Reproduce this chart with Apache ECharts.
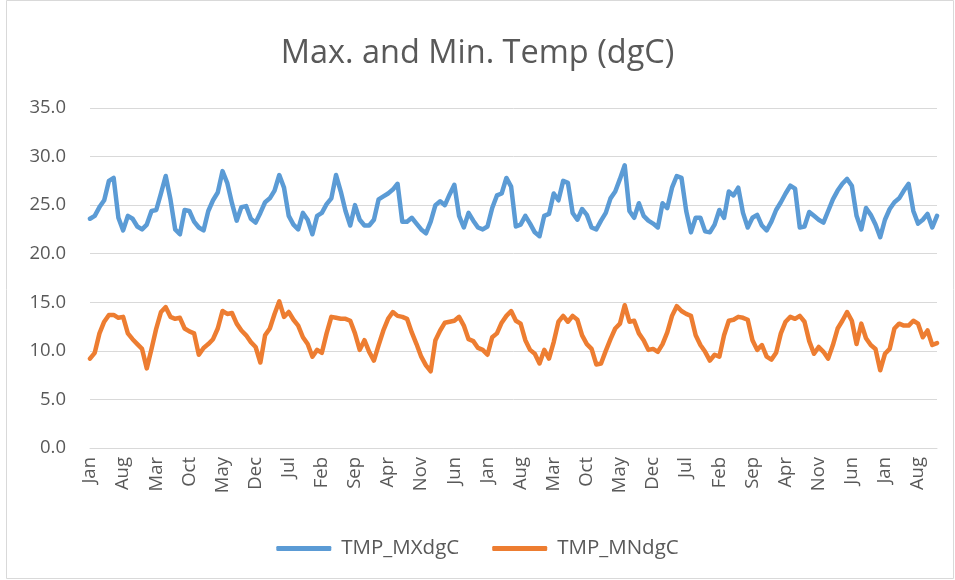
<!DOCTYPE html>
<html>
<head>
<meta charset="utf-8">
<script src="https://cdn.jsdelivr.net/npm/echarts@6/dist/echarts.min.js"></script>
<style>
html,body{margin:0;padding:0;background:#fff;}
#chart{width:955px;height:580px;}
</style>
</head>
<body>
<div id="chart"></div>
<script>
const monthNames = ['Jan','Feb','Mar','Apr','May','Jun','Jul','Aug','Sep','Oct','Nov','Dec'];
const monthCount = 180;
const categories = Array.from({length: monthCount}, (_, i) => monthNames[i % 12]);

const tmpMax = [
23.6,23.9,24.8,25.5,27.5,27.8,23.7,22.4,23.9,23.6,
22.8,22.5,23.0,24.4,24.5,26.2,28.0,25.6,22.5,22.0,
24.5,24.4,23.3,22.7,22.4,24.4,25.5,26.3,28.5,27.3,
25.2,23.4,24.8,24.9,23.6,23.2,24.2,25.3,25.7,26.5,
28.1,26.8,23.9,23.0,22.5,24.2,23.5,22.0,23.9,24.2,
25.1,25.7,28.1,26.4,24.4,22.9,25.0,23.5,22.9,22.9,
23.5,25.6,25.9,26.2,26.6,27.2,23.3,23.3,23.7,23.1,
22.5,22.1,23.3,25.0,25.4,25.0,26.1,27.1,23.9,22.7,
24.2,23.4,22.7,22.5,22.8,24.7,26.0,26.2,27.8,26.9,
22.8,23.0,23.9,23.1,22.2,21.8,23.9,24.1,26.2,25.5,
27.5,27.3,24.2,23.5,24.6,24.0,22.7,22.5,23.4,24.2,
25.7,26.4,27.7,29.1,24.4,23.7,25.2,23.9,23.4,23.1,
22.7,25.2,24.7,26.8,28.0,27.8,24.4,22.2,23.7,23.7,
22.3,22.2,23.0,24.5,23.7,26.4,26.0,26.8,24.2,22.7,
23.7,24.0,22.9,22.4,23.3,24.5,25.3,26.2,27.0,26.7,
22.7,22.8,24.3,23.9,23.5,23.2,24.4,25.6,26.5,27.2,
27.7,27.0,23.9,22.5,24.7,24.0,23.0,21.7,23.5,24.6,
25.3,25.7,26.5,27.2,24.4,23.1,23.5,24.1,22.7,23.9
];

const tmpMin = [
9.2,9.8,11.8,13.0,13.7,13.7,13.4,13.5,11.8,11.2,
10.7,10.2,8.2,10.2,12.3,14.0,14.5,13.5,13.3,13.4,
12.3,12.0,11.8,9.6,10.3,10.7,11.2,12.3,14.1,13.8,
13.9,12.8,12.1,11.6,10.9,10.4,8.8,11.6,12.3,13.8,
15.1,13.5,14.0,13.2,12.6,11.4,10.7,9.4,10.1,9.8,
11.8,13.5,13.4,13.3,13.3,13.1,11.8,10.1,11.1,9.9,
9.0,10.6,12.1,13.3,14.0,13.6,13.5,13.3,11.9,10.7,
9.4,8.5,7.9,11.1,12.1,12.9,13.0,13.1,13.5,12.6,
11.2,11.0,10.3,10.1,9.6,11.4,11.8,12.9,13.6,14.1,
13.1,12.8,11.1,10.1,9.7,8.7,10.1,9.2,10.9,13.0,
13.6,13.0,13.6,13.2,11.6,10.7,10.2,8.6,8.7,10.0,
11.2,12.3,12.8,14.7,13.0,13.1,11.8,11.1,10.1,10.2,
9.9,10.7,11.9,13.6,14.6,14.1,13.8,13.6,11.6,10.6,
9.9,9.0,9.6,9.4,11.6,13.1,13.2,13.5,13.4,13.2,
11.1,10.1,10.6,9.4,9.1,9.8,11.8,13.0,13.5,13.3,
13.6,13.0,11.0,9.7,10.4,9.9,9.2,10.6,12.3,13.1,
14.0,13.1,10.7,12.8,11.3,10.6,10.2,8.0,9.7,10.2,
12.3,12.8,12.6,12.6,13.1,12.8,11.4,12.1,10.6,10.8
];

const seriesNames = ['TMP_MXdgC', 'TMP_MNdgC'];
const titleText = 'Max. and Min. Temp (dgC)';

const chart = echarts.init(document.getElementById('chart'), null, {renderer: 'canvas'});
const font = 'Open Sans';
chart.setOption({
  animation: false,
  backgroundColor: '#ffffff',
  title: {
    text: titleText,
    left: 'center',
    top: 32,
    textStyle: {fontFamily: font, fontSize: 32.5, fontWeight: 'normal', color: '#595959'}
  },
  graphic: [{
    type: 'rect',
    shape: {x: 6.5, y: 0.5, width: 947, height: 578},
    style: {fill: 'none', stroke: '#d9d9d9', lineWidth: 1},
    silent: true
  }],
  legend: {
    bottom: 16,
    left: 'center',
    itemWidth: 55,
    itemHeight: 5,
    itemGap: 33,
    icon: 'roundRect',
    textStyle: {fontFamily: font, fontSize: 20.5, color: '#595959', padding: [0, 0, 0, 5]},
    data: seriesNames
  },
  grid: {left: 90, right: 18, top: 108, bottom: 132},
  xAxis: {
    type: 'category',
    data: categories,
    boundaryGap: false,
    axisLine: {show: true, lineStyle: {color: '#d9d9d9', width: 1}},
    axisTick: {show: false},
    axisLabel: {
      interval: 6,
      rotate: 90,
      margin: 9,
      fontFamily: font,
      fontSize: 18.5,
      color: '#595959'
    },
    splitLine: {show: false}
  },
  yAxis: {
    type: 'value',
    min: 0,
    max: 35,
    interval: 5,
    axisLine: {show: false},
    axisTick: {show: false},
    axisLabel: {
      formatter: v => v.toFixed(1),
      margin: 24,
      fontFamily: font,
      fontSize: 18.5,
      color: '#595959'
    },
    splitLine: {lineStyle: {color: '#d9d9d9', width: 1}}
  },
  series: [
    {
      name: seriesNames[0],
      type: 'line',
      data: tmpMax,
      showSymbol: false,
      symbol: 'none',
      lineStyle: {width: 4.5, color: '#5B9BD5', join: 'round', cap: 'round'},
      itemStyle: {color: '#5B9BD5'}
    },
    {
      name: seriesNames[1],
      type: 'line',
      data: tmpMin,
      showSymbol: false,
      symbol: 'none',
      lineStyle: {width: 4.5, color: '#ED7D31', join: 'round', cap: 'round'},
      itemStyle: {color: '#ED7D31'}
    }
  ]
});
</script>
</body>
</html>
